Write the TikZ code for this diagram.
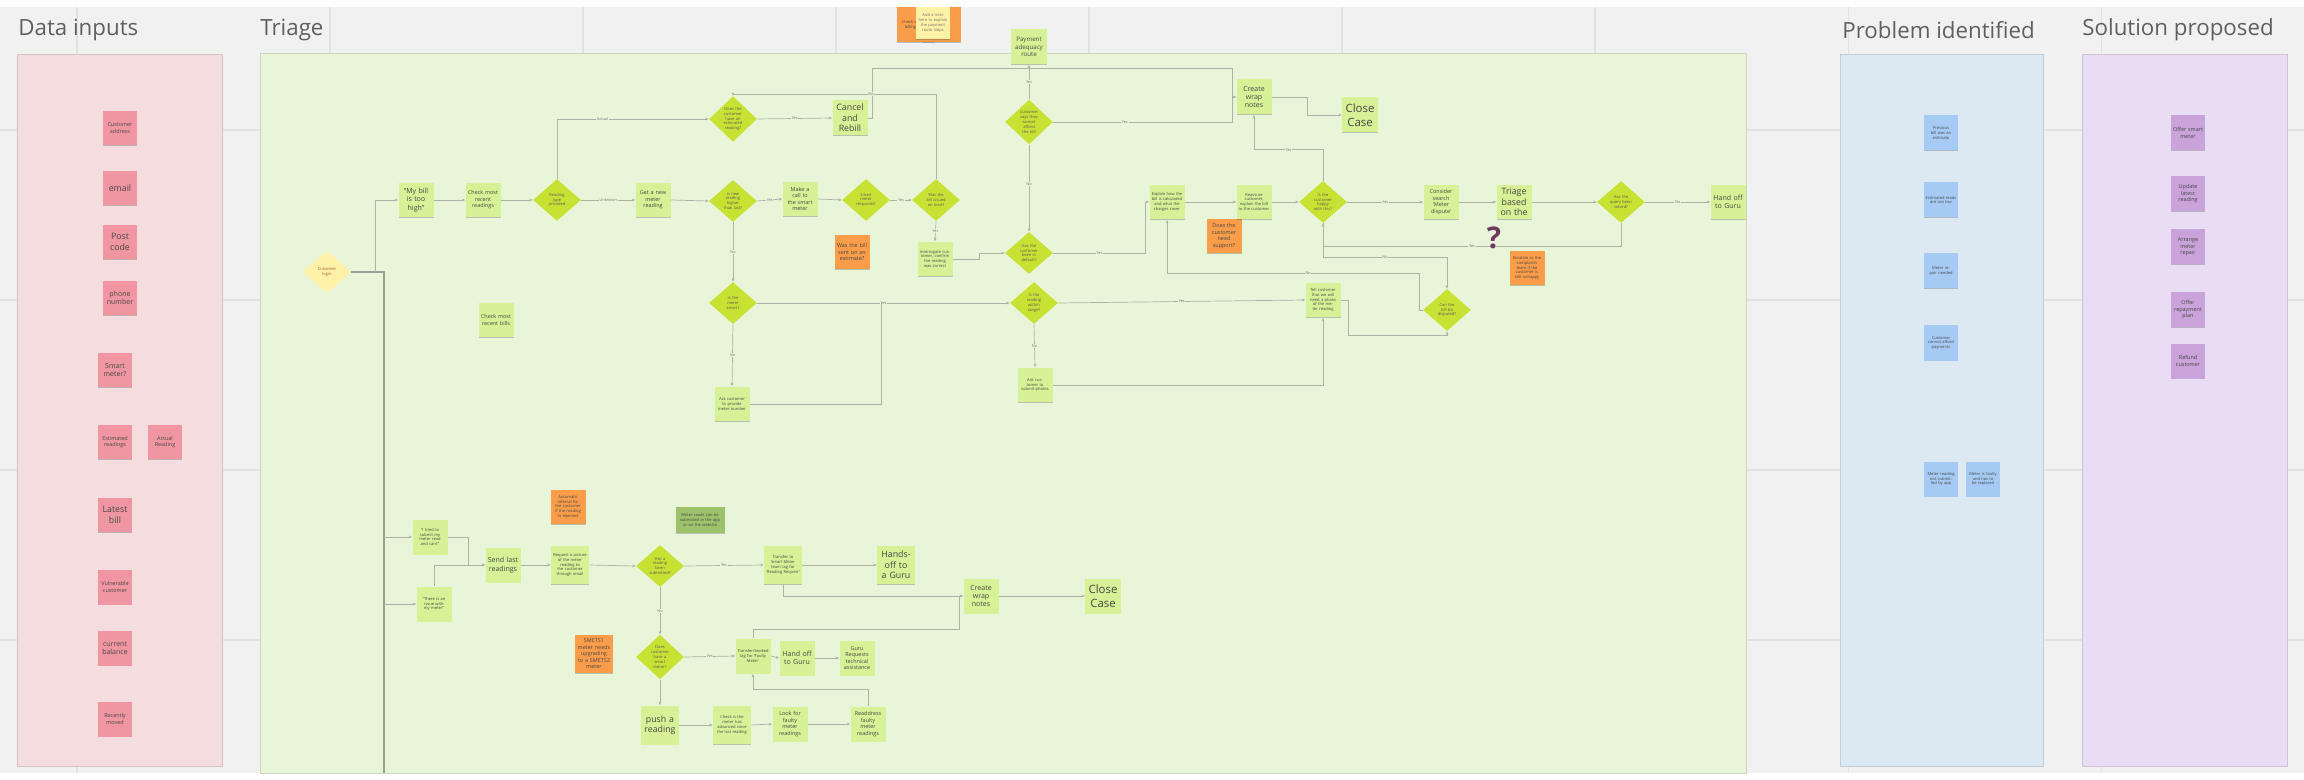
\documentclass[tikz,border=0pt]{standalone}
\usepackage{fontspec}
\setmainfont{Open Sans}
\usepackage{tikz}
\usetikzlibrary{arrows.meta,positioning,shapes.geometric,shadows}

\definecolor{pagebg}{RGB}{241,241,241}
\definecolor{gridc}{RGB}{226,226,226}
\definecolor{headc}{RGB}{95,95,95}
\definecolor{inbg}{RGB}{244,220,223}
\definecolor{inst}{RGB}{240,150,163}
\definecolor{trbg}{RGB}{232,245,216}
\definecolor{trst}{RGB}{214,241,150}
\definecolor{trdi}{RGB}{200,226,52}
\definecolor{logc}{RGB}{255,242,166}
\definecolor{orst}{RGB}{250,157,74}
\definecolor{olst}{RGB}{158,194,108}
\definecolor{pbbg}{RGB}{220,233,243}
\definecolor{pbst}{RGB}{165,203,244}
\definecolor{sobg}{RGB}{233,221,243}
\definecolor{sost}{RGB}{201,163,218}
\definecolor{linec}{RGB}{172,178,166}
\definecolor{qmc}{RGB}{112,58,96}

\newcommand{\fA}{\fontsize{2.3}{2.8}\selectfont}
\newcommand{\fB}{\fontsize{3.1}{3.7}\selectfont}
\newcommand{\fC}{\fontsize{4}{4.8}\selectfont}
\newcommand{\fD}{\fontsize{5}{6}\selectfont}
\newcommand{\fE}{\fontsize{6.5}{7.8}\selectfont}

\tikzset{
  head/.style={anchor=west, inner sep=0pt, text=headc, font=\fontsize{12.7}{15}\selectfont},
  wh/.style 2 args={minimum width=#1*0.02cm, minimum height=#2*0.02cm},
  sticky/.style={rectangle, fill=#1, inner sep=0.5pt, minimum width=0.7cm, minimum height=0.7cm,
    text width=0.62cm, align=center, text=black!72, font=\fA,
    drop shadow={shadow xshift=0pt, shadow yshift=-0.5pt, opacity=0.3, fill=black!70}},
  sticky/.default=trst,
  decide/.style={diamond, fill=trdi, inner sep=0pt, minimum width=0.96cm, minimum height=0.84cm,
    text width=0.44cm, align=center, text=black!65, font=\fA},
  lbl/.style={font=\fontsize{2.2}{2.6}\selectfont, text=black!55, fill=trbg, inner sep=0.4pt},
  flow/.style={draw=linec, line width=0.4pt, -{Stealth[length=2pt,width=1.6pt]}},
  link/.style={draw=linec, line width=0.4pt},
  trunk/.style={draw=linec!90!black, line width=1.3pt},
}

\begin{document}
\begin{tikzpicture}[x=0.02cm, y=-0.02cm]
  \useasboundingbox (0,0) rectangle (2304,780);
  \fill[white] (0,0) rectangle (2304,780);
  \fill[pagebg] (0,7) rectangle (2304,773);
  \foreach \gx in {77,330,...,2101} \draw[gridc, line width=0.6pt] (\gx,7) -- (\gx,773);
  \foreach \gy in {130,300,470,640} \draw[gridc, line width=0.6pt] (0,\gy) -- (2304,\gy);

  % column panels
  \filldraw[fill=inbg, draw=inbg!88!black, line width=0.3pt] (17,54) rectangle (222,766);
  \filldraw[fill=trbg, draw=trbg!88!black, line width=0.3pt] (260,53) rectangle (1746,773);
  \filldraw[fill=pbbg, draw=pbbg!88!black, line width=0.3pt] (1840,54) rectangle (2043,766);
  \filldraw[fill=sobg, draw=sobg!88!black, line width=0.3pt] (2082,54) rectangle (2287,766);
  \node[head] (hdin) at (18,30) {Data inputs};
  \node[head] (hdtr) at (260,30) {Triage};
  \node[head] (hdpb) at (1842,30) {Problem identified};
  \node[head] (hdso) at (2082,30) {Solution proposed};

  % data inputs
  \node[sticky=inst, font=\fB] (addr) at (120,128) {Customer address};
  \node[sticky=inst, font=\fD] (email) at (120,188) {email};
  \node[sticky=inst, font=\fD] (post) at (120,242) {Post code};
  \node[sticky=inst, font=\fC] (phone) at (120,298) {phone number};
  \node[sticky=inst, font=\fC] (smart) at (115,370) {Smart meter?};
  \node[sticky=inst, font=\fB] (estim) at (115,442) {Estimated readings};
  \node[sticky=inst, font=\fB] (actual) at (165,442) {Actual Reading};
  \node[sticky=inst, font=\fD] (latest) at (115,515) {Latest bill};
  \node[sticky=inst, font=\fB] (vuln) at (115,587) {Vulnerable customer};
  \node[sticky=inst, font=\fC] (balance) at (115,648) {current balance};
  \node[sticky=inst, font=\fB] (moved) at (115,719) {Recently moved};

  % problem identified / solution proposed
  \foreach \nm/\y/\txt in {pb1/133/Previous bill was an estimate, pb2/200/Estimated reads are too low,
      pb3/271/Meter repair needed, pb4/343/Customer cannot afford payments}
    \node[sticky=pbst, wh={34}{35}] (\nm) at (1941,\y) {\txt};
  \node[sticky=pbst, wh={34}{35}] (pb5) at (1941,479) {Meter reading not submitted by app};
  \node[sticky=pbst, wh={34}{35}] (pb6) at (1983,479) {Meter is faulty and has to be replaced};
  \foreach \nm/\y/\txt in {so1/133/Offer smart meter, so2/194/Update latest reading, so3/247/Arrange meter repair,
      so4/310/Offer repayment plan, so5/361/Refund customer}
    \node[sticky=sost, wh={34}{35}, font=\fB] (\nm) at (2188,\y) {\txt};

  % triage: bill too high
  \node[decide, fill=logc, text=orst!60!black] (login) at (327,272) {Customer login};
  \node[sticky, font=\fC] (bill) at (416,200) {``My bill is too high''};
  \node[sticky, font=\fB] (chkread) at (483,200) {Check most recent readings};
  \node[decide] (dtype) at (557,200) {Reading type provided};
  \node[sticky, font=\fB] (newread) at (653,200) {Get a new meter reading};
  \node[decide] (dest) at (733,119) {Does the customer have an estimated reading?};
  \node[sticky, font=\fD] (rebill) at (850,118) {Cancel and Rebill};
  \node[decide] (dhigher) at (733,201) {Is new reading higher than last?};
  \node[sticky, font=\fB] (callsm) at (800,199) {Make a call to the smart meter};
  \node[decide] (dresp) at (866,200) {Smart meter responds?};
  \node[decide] (dissued) at (936,200) {Was the bill issued on time?};
  \node[sticky=orst, font=\fB] (orange1) at (852,252) {Was the bill sent on an estimate?};
  \node[sticky] (confirm) at (935,259) {Interrogate customer, confirm the reading was correct};
  \node[sticky, font=\fontsize{3.5}{4.3}\selectfont, text width=0.68cm] (payroute) at (1029,47) {Payment adequacy route};
  \node[decide] (dpay) at (1029,122) {Customer says they cannot afford the bill};
  \node[decide] (ddefault) at (1029,253) {Has the customer been in default?};
  \node[sticky, font=\fB] (chkbills) at (496,320) {Check most recent bills};
  \node[decide] (dsmart) at (733,303) {Is the meter smart?};
  \node[sticky] (asknum) at (732,404) {Ask customer to provide meter number};
  \node[decide] (drange) at (1034,303) {Is the reading within range?};
  \node[sticky] (photos) at (1035,385) {Ask customer to submit photos};
  \node[sticky] (explain) at (1167,202) {Explain how the bill is calculated and what the charges cover};
  \node[sticky=orst, font=\fB] (orange2) at (1224,236) {Does the customer need support?};
  \node[sticky] (reassure) at (1254,202) {Reassure customer, explain the bill to the customer};
  \node[decide] (dhappy) at (1323,202) {Is the customer happy with this?};
  \node[sticky, font=\fC] (wrap1) at (1254,97) {Create wrap notes};
  \node[sticky, font=\fE, text width=0.68cm] (close1) at (1360,115) {Close Case};
  \node[sticky, font=\fB] (search) at (1441,202) {Consider search `Meter dispute'};
  \node[sticky, font=\fD] (triage) at (1514,202) {Triage based on the};
  \node[decide] (dresolved) at (1621,202) {Has the query been solved?};
  \node[sticky, font=\fC] (guru1) at (1728,202) {Hand off to Guru};
  \node[sticky=orst] (orange3) at (1527,268) {Escalate to the complaints team if the customer is still unhappy};
  \node[sticky] (tellcust) at (1323,300) {Tell customer that we will need a photo of the meter reading};
  \node[decide] (ddispute) at (1447,310) {Can the bill be disputed?};
  \node[sticky=orst, wh={38}{35}] (topor1) at (916,25) {Check with the billing team};
  \node[sticky=orst, wh={38}{35}] (topor2) at (942,25) {};
  \node[sticky=logc, wh={34}{32}, text=black!55] (topyl) at (933,23) {Add a note here to explain the payment route steps};

  % triage: meter reading
  \node[sticky] (tried) at (430,537) {``I tried to submit my meter read and can't''};
  \node[sticky] (issue) at (434,604) {``There is an issue with my meter''};
  \node[sticky, font=\fC] (sendlast) at (503,565) {Send last readings};
  \node[sticky=orst] (orange4) at (568,507) {Automatic referral for the customer if the reading is rejected};
  \node[sticky, wh={38}{38}, text width=0.68cm] (reqpic) at (570,565) {Request a picture of the meter reading to the customer through email};
  \node[decide] (dsubm) at (660,566) {Has a reading been submitted?};
  \node[sticky=olst, wh={49}{26}, text width=0.9cm] (olive) at (700,520) {Meter reads can be submitted in the app or on the website};
  \node[sticky, wh={38}{38}, text width=0.68cm] (smtag) at (783,565) {Transfer to Smart Meter team tag for `Reading Request'};
  \node[sticky, wh={38}{38}, font=\fD, text width=0.7cm] (guru2) at (896,565) {Hands-off to a Guru};
  \node[sticky, font=\fC] (wrap2) at (981,596) {Create wrap notes};
  \node[sticky, font=\fE, text width=0.68cm] (close2) at (1103,596) {Close Case};
  \node[decide] (dhassm) at (660,657) {Does customer have a smart meter?};
  \node[sticky=orst, wh={38}{38}, font=\fB, text width=0.68cm] (orange5) at (594,654) {SMETS1 meter needs upgrading to a SMETS2 meter};
  \node[sticky] (faulty) at (753,656) {Transfer/booked tag for `Faulty Meter'};
  \node[sticky, font=\fC] (guru3) at (797,658) {Hand off to Guru};
  \node[sticky, font=\fB] (guruassist) at (857,658) {Guru Requests technical assistance};
  \node[sticky, wh={38}{39}, font=\fD, text width=0.7cm] (push) at (660,725) {push a reading};
  \node[sticky, wh={38}{38}, text width=0.68cm] (chkpush) at (732,725) {Check is the meter has advanced since the last reading};
  \node[sticky, font=\fB] (lookfault) at (790,724) {Look for faulty meter readings};
  \node[sticky, font=\fB] (readdress) at (868,724) {Readdress faulty meter readings};

  % connectors: bill too high
  \coordinate (tk0) at (384,272);
  \coordinate (tk1) at (375,272);
  \coordinate (tkend) at (384,773);
  \draw[trunk] (login.east) -- (tk0) -- (tkend);
  \draw[flow] (tk1) |- (bill.west);
  \draw[flow] (bill.east) -- (chkread.west);
  \draw[flow] (chkread.east) -- (dtype.west);
  \draw[flow] (dtype.east) -- node[lbl]{Unknown} (newread.west);
  \draw[flow] (newread.east) -- (dhigher.west);
  \draw[flow] (dtype.north) |- node[lbl, pos=0.65]{Actual} (dest.west);
  \draw[flow] (dest.east) -- node[lbl]{Yes} (rebill.west);
  \coordinate (t1) at (1232,68);
  \coordinate (t2) at (733,94);
  \coordinate (t3) at (1232,122);
  \draw[flow] (rebill.east) -- ++(4,0) |- (t1) |- (wrap1.west);
  \draw[flow] (dissued.north) |- node[lbl, pos=0.66]{No} (t2) -- (dest.north);
  \draw[flow] (dhigher.east) -- node[lbl]{Yes} (callsm.west);
  \draw[flow] (callsm.east) -- (dresp.west);
  \draw[flow] (dresp.east) -- node[lbl]{Yes} (dissued.west);
  \draw[flow] (dissued.south) -- node[lbl]{Yes} (confirm.north);
  \draw[flow] (confirm.east) -- ++(26,0) |- (ddefault.west);
  \draw[flow] (dpay.north) -- node[lbl]{Yes} (payroute.south);
  \draw[flow] (dpay.east) -- node[lbl, pos=0.4]{Yes} (t3) |- (wrap1.west);
  \draw[flow] (dpay.south) -- node[lbl, pos=0.45]{No} (ddefault.north);
  \draw[flow] (ddefault.east) -- node[lbl]{Yes} ++(92,0) |- (explain.west);
  \draw[flow] (explain.east) -- (reassure.west);
  \draw[flow] (reassure.east) -- (dhappy.west);
  \draw[flow] (dhappy.east) -- node[lbl]{Yes} (search.west);
  \draw[flow] (search.east) -- (triage.west);
  \draw[flow] (triage.east) -- (dresolved.west);
  \draw[flow] (dresolved.east) -- node[lbl]{No} (guru1.west);
  \draw[flow] (dresolved.south) -- ++(0,23) -| node[lbl, pos=0.25]{Yes} (dhappy.south);
  \draw[flow] (dhappy.south) -- ++(0,34) -| node[lbl, pos=0.25]{No} (ddispute.north);
  \draw[flow] (dhappy.north) -- ++(0,-31) -| node[lbl, pos=0.25]{Yes} (wrap1.south);
  \draw[flow] (wrap1.east) -- ++(35,0) |- (close1.west);
  \draw[flow] (dhigher.south) -- node[lbl]{No} (dsmart.north);
  \draw[flow] (dsmart.south) -- node[lbl]{No} (asknum.north);
  \draw[flow] (dsmart.east) -- node[lbl]{Yes} (drange.west);
  \coordinate (c23) at (881,303);
  \draw[link] (asknum.east) -| (c23);
  \draw[flow] (drange.east) -- node[lbl]{Yes} (tellcust.west);
  \draw[flow] (drange.south) -- node[lbl]{No} (photos.north);
  \draw[flow] (photos.east) -| (tellcust.south);
  \coordinate (c18) at (1419,273);
  \draw[flow] (ddispute.west) -| (c18) -| node[lbl, pos=0.22]{No} (explain.south);
  \coordinate (c19) at (1447,335);
  \draw[flow] (tellcust.east) -- ++(7,0) |- (c19) -- (ddispute.south);

  % connectors: meter reading
  \coordinate (b1) at (384,537);
  \coordinate (b2) at (384,604);
  \draw[flow] (b1) -- (tried.west);
  \draw[flow] (b2) -- (issue.west);
  \draw[flow] (tried.east) -- ++(20,0) |- (sendlast.west);
  \draw[flow] (issue.north) |- (sendlast.west);
  \draw[flow] (sendlast.east) -- (reqpic.west);
  \draw[flow] (reqpic.east) -- (dsubm.west);
  \draw[flow] (dsubm.east) -- node[lbl]{Yes} (smtag.west);
  \draw[flow] (smtag.east) -- (guru2.west);
  \draw[flow] (smtag.south) |- (wrap2.west);
  \draw[flow] (wrap2.east) -- (close2.west);
  \draw[flow] (dsubm.south) -- node[lbl]{No} (dhassm.north);
  \draw[flow] (dhassm.east) -- node[lbl]{Yes} (faulty.west);
  \coordinate (c39) at (959,629);
  \draw[flow] (faulty.north) |- (c39) |- (wrap2.west);
  \draw[flow] (faulty.east) -- (guru3.west);
  \draw[flow] (guru3.east) -- (guruassist.west);
  \draw[flow] (dhassm.south) -- (push.north);
  \draw[flow] (push.east) -- (chkpush.west);
  \draw[flow] (chkpush.east) -- (lookfault.west);
  \draw[flow] (lookfault.east) -- (readdress.west);
  \draw[flow] (readdress.north) -- ++(0,-17) -| (faulty.south);

  \node[font=\fontsize{17}{17}\selectfont\bfseries, text=qmc, inner sep=0pt] (qmark) at (1494,238) {?};
\end{tikzpicture}
\end{document}
